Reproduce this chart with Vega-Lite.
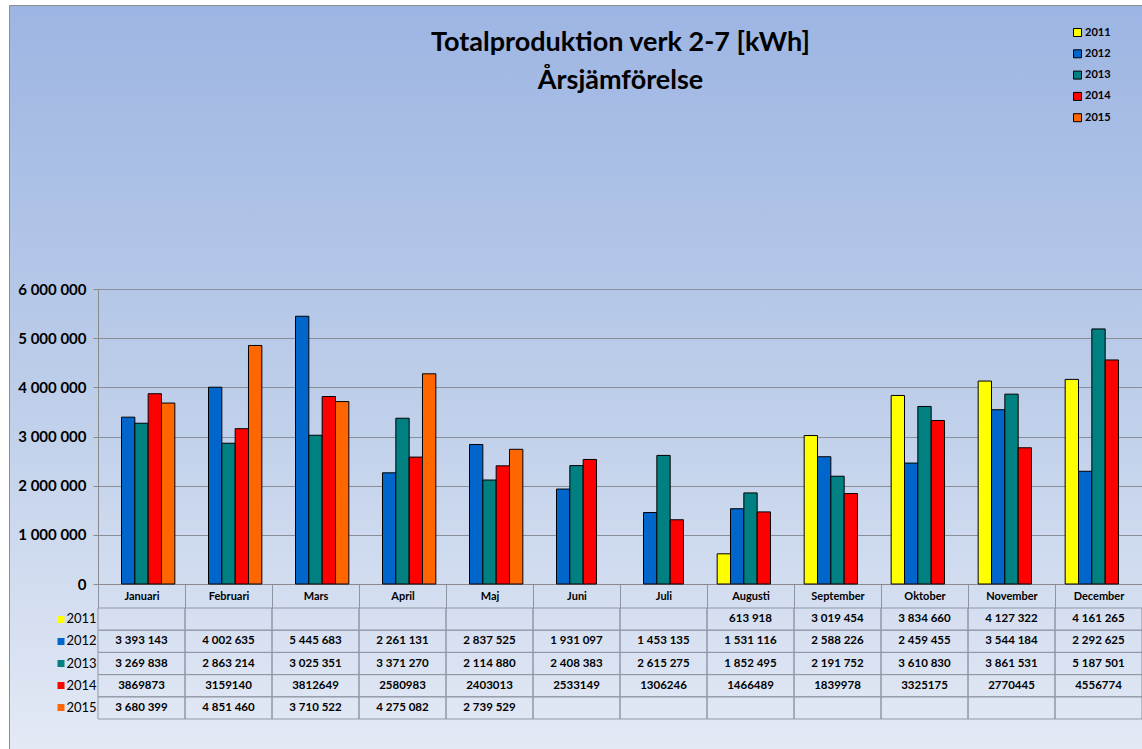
{
  "$schema": "https://vega.github.io/schema/vega-lite/v6.json",
  "width": 1133,
  "height": 744,
  "autosize": {"type": "none"},
  "padding": {"left": 9, "top": 5, "right": 0, "bottom": 0},
  "background": "white",
  "config": {
    "font": "Lato",
    "view": {
      "fill": {"gradient": "linear", "x1": 0, "y1": 0, "x2": 0, "y2": 1,
        "stops": [{"offset": 0, "color": "#9db5e3"}, {"offset": 0.5, "color": "#bccde9"}, {"offset": 1, "color": "#e3e9f5"}]},
      "stroke": "#8e8e8e"
    }
  },
  "title": {
    "text": ["Totalproduktion verk 2-7 [kWh]", "Årsjämförelse"],
    "anchor": "middle",
    "frame": "group",
    "offset": -90,
    "dx": 45,
    "fontSize": 27,
    "fontWeight": "bold",
    "font": "Lato",
    "color": "black",
    "lineHeight": 38
  },
  "data": {
    "values": [
      {"month": "Januari", "year": "2011", "value": null},
      {"month": "Februari", "year": "2011", "value": null},
      {"month": "Mars", "year": "2011", "value": null},
      {"month": "April", "year": "2011", "value": null},
      {"month": "Maj", "year": "2011", "value": null},
      {"month": "Juni", "year": "2011", "value": null},
      {"month": "Juli", "year": "2011", "value": null},
      {"month": "Augusti", "year": "2011", "value": 613918},
      {"month": "September", "year": "2011", "value": 3019454},
      {"month": "Oktober", "year": "2011", "value": 3834660},
      {"month": "November", "year": "2011", "value": 4127322},
      {"month": "December", "year": "2011", "value": 4161265},
      {"month": "Januari", "year": "2012", "value": 3393143},
      {"month": "Februari", "year": "2012", "value": 4002635},
      {"month": "Mars", "year": "2012", "value": 5445683},
      {"month": "April", "year": "2012", "value": 2261131},
      {"month": "Maj", "year": "2012", "value": 2837525},
      {"month": "Juni", "year": "2012", "value": 1931097},
      {"month": "Juli", "year": "2012", "value": 1453135},
      {"month": "Augusti", "year": "2012", "value": 1531116},
      {"month": "September", "year": "2012", "value": 2588226},
      {"month": "Oktober", "year": "2012", "value": 2459455},
      {"month": "November", "year": "2012", "value": 3544184},
      {"month": "December", "year": "2012", "value": 2292625},
      {"month": "Januari", "year": "2013", "value": 3269838},
      {"month": "Februari", "year": "2013", "value": 2863214},
      {"month": "Mars", "year": "2013", "value": 3025351},
      {"month": "April", "year": "2013", "value": 3371270},
      {"month": "Maj", "year": "2013", "value": 2114880},
      {"month": "Juni", "year": "2013", "value": 2408383},
      {"month": "Juli", "year": "2013", "value": 2615275},
      {"month": "Augusti", "year": "2013", "value": 1852495},
      {"month": "September", "year": "2013", "value": 2191752},
      {"month": "Oktober", "year": "2013", "value": 3610830},
      {"month": "November", "year": "2013", "value": 3861531},
      {"month": "December", "year": "2013", "value": 5187501},
      {"month": "Januari", "year": "2014", "value": 3869873},
      {"month": "Februari", "year": "2014", "value": 3159140},
      {"month": "Mars", "year": "2014", "value": 3812649},
      {"month": "April", "year": "2014", "value": 2580983},
      {"month": "Maj", "year": "2014", "value": 2403013},
      {"month": "Juni", "year": "2014", "value": 2533149},
      {"month": "Juli", "year": "2014", "value": 1306246},
      {"month": "Augusti", "year": "2014", "value": 1466489},
      {"month": "September", "year": "2014", "value": 1839978},
      {"month": "Oktober", "year": "2014", "value": 3325175},
      {"month": "November", "year": "2014", "value": 2770445},
      {"month": "December", "year": "2014", "value": 4556774},
      {"month": "Januari", "year": "2015", "value": 3680399},
      {"month": "Februari", "year": "2015", "value": 4851460},
      {"month": "Mars", "year": "2015", "value": 3710522},
      {"month": "April", "year": "2015", "value": 4275082},
      {"month": "Maj", "year": "2015", "value": 2739529},
      {"month": "Juni", "year": "2015", "value": null},
      {"month": "Juli", "year": "2015", "value": null},
      {"month": "Augusti", "year": "2015", "value": null},
      {"month": "September", "year": "2015", "value": null},
      {"month": "Oktober", "year": "2015", "value": null},
      {"month": "November", "year": "2015", "value": null},
      {"month": "December", "year": "2015", "value": null}
    ]
  },
  "layer": [
    {
      "transform": [{"filter": "datum.value != null"}],
      "mark": {"type": "bar", "stroke": "black", "strokeWidth": 1},
      "encoding": {
        "x": {
          "field": "month", "type": "nominal",
          "scale": {
            "domain": ["Januari", "Februari", "Mars", "April", "Maj", "Juni", "Juli", "Augusti", "September", "Oktober", "November", "December"],
            "range": [89, 1133], "paddingInner": 0, "paddingOuter": 0
          },
          "axis": {
            "orient": "bottom", "offset": -165, "title": null,
            "domain": true, "domainColor": "#8a8a8a",
            "ticks": true, "tickBand": "extent", "tickSize": 24, "tickColor": "#8f95a0",
            "labelFontWeight": "bold", "labelFontSize": 11, "labelColor": "black",
            "labelPadding": -12, "labelBaseline": "middle", "labelAngle": 0,
            "grid": false
          }
        },
        "xOffset": {
          "field": "year", "type": "nominal",
          "scale": {"domain": ["2011", "2012", "2013", "2014", "2015"], "paddingInner": 0, "paddingOuter": 0.763}
        },
        "y": {
          "field": "value", "type": "quantitative",
          "scale": {"domain": [0, 6000000], "range": [579, 284], "nice": false},
          "axis": {
            "orient": "left", "offset": -89, "title": null,
            "values": [0, 1000000, 2000000, 3000000, 4000000, 5000000, 6000000],
            "labelExpr": "replace(format(datum.value, ','), regexp(',', 'g'), ' ')",
            "labelFontWeight": "bold", "labelFontSize": 15, "labelColor": "black",
            "tickSize": 5, "tickColor": "#8a8a8a", "labelPadding": 7,
            "domainColor": "#8a8a8a",
            "grid": true, "gridColor": "#8a8e98", "gridWidth": 1
          }
        },
        "color": {
          "field": "year", "type": "nominal",
          "scale": {"domain": ["2011", "2012", "2013", "2014", "2015"], "range": ["#ffff00", "#0066cc", "#008080", "#ff0000", "#ff6600"]},
          "legend": {
            "orient": "none", "legendX": 1063, "legendY": 22, "title": null,
            "padding": 0,
            "symbolType": "square", "symbolSize": 64, "symbolStrokeColor": "black", "symbolStrokeWidth": 1, "symbolOpacity": 1,
            "labelFontSize": 11, "labelFontWeight": "bold", "labelColor": "black", "labelOffset": 2,
            "rowPadding": 8.3
          }
        }
      }
    },
    {
      "encoding": {
        "x": {"field": "month", "type": "nominal"},
        "y": {
          "field": "year", "type": "nominal",
          "scale": {"domain": ["2011", "2012", "2013", "2014", "2015"], "range": [603, 714], "paddingInner": 0, "paddingOuter": 0},
          "axis": {
            "orient": "left", "offset": -55, "title": null,
            "domain": false, "grid": false,
            "tickSize": 7, "tickWidth": 7, "tickCap": "butt",
            "tickColor": {
              "condition": [
                {"test": "datum.value == '2011'", "value": "#ffff00"},
                {"test": "datum.value == '2012'", "value": "#0066cc"},
                {"test": "datum.value == '2013'", "value": "#008080"},
                {"test": "datum.value == '2014'", "value": "#ff0000"}
              ],
              "value": "#ff6600"
            },
            "labelAlign": "left", "labelPadding": -9,
            "labelFontSize": 13, "labelColor": "black", "labelFontWeight": "normal"
          }
        }
      },
      "layer": [
        {
          "mark": {"type": "rect", "fillOpacity": 0, "stroke": "#9098a6", "strokeWidth": 1}
        },
        {
          "transform": [
            {"filter": "datum.value != null"},
            {"calculate": "datum.year == '2014' ? '' + datum.value : replace(format(datum.value, ','), regexp(',', 'g'), ' ')", "as": "label"}
          ],
          "mark": {"type": "text", "fontWeight": "bold", "fontSize": 11.5, "baseline": "middle", "align": "center", "color": "black"},
          "encoding": {"text": {"field": "label", "type": "nominal"}}
        }
      ]
    }
  ],
  "resolve": {"scale": {"y": "independent"}, "axis": {"y": "independent"}}
}
